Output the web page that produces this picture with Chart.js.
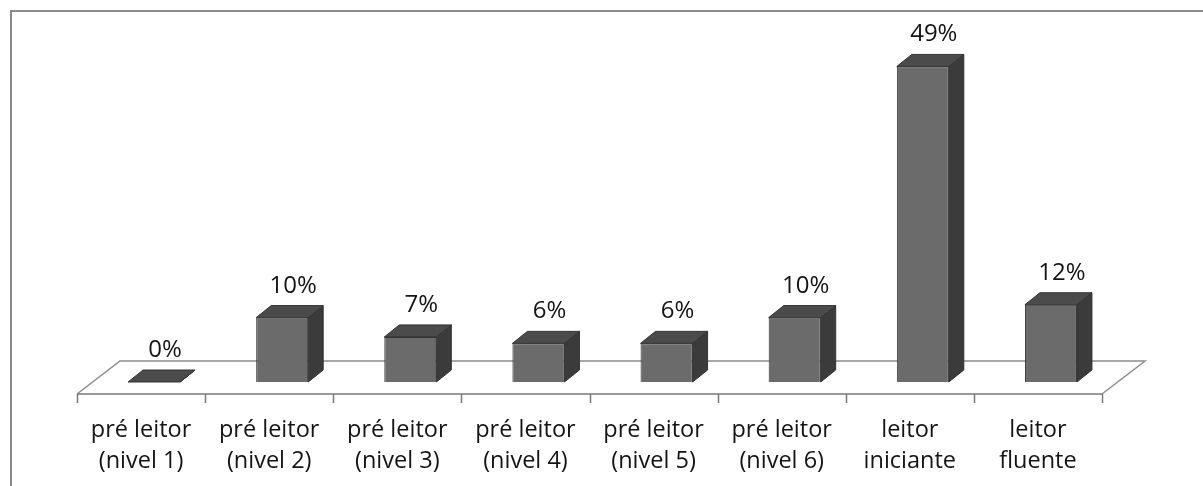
<!DOCTYPE html>
<html>
<head>
<meta charset="utf-8">
<script src="https://cdn.jsdelivr.net/npm/chart.js@4.4.1/dist/chart.umd.min.js"></script>
<style>
  html, body { margin: 0; padding: 0; background: #fff; }
  #wrap { width: 1203px; height: 486px; position: relative; }
</style>
</head>
<body>
<div id="wrap"><canvas id="chart" width="1203" height="486"></canvas></div>
<script>
'use strict';

// data
const categories = [
  ['pré leitor', '(nivel 1)'],
  ['pré leitor', '(nivel 2)'],
  ['pré leitor', '(nivel 3)'],
  ['pré leitor', '(nivel 4)'],
  ['pré leitor', '(nivel 5)'],
  ['pré leitor', '(nivel 6)'],
  ['leitor', 'iniciante'],
  ['leitor', 'fluente']
];
const percentValues = [0, 10, 7, 6, 6, 10, 49, 12];
const valueAxisMin = 0, valueAxisMax = 50;

// fake 3D look
const DX = 15, DY = 12;        // depth of each bar
const SHIFT = 13;              // bars sit a bit back on the floor
const FLOOR_DX = 43, FLOOR_DY = 33, FLOOR_DROP = 12;
const FRONT = '#6b6b6b', SIDE = '#3b3b3b', TOP = '#4b4b4b', EDGE = '#333';
const TEXT = '#141414';

const bar3d = {
  id: 'bar3d',
  beforeDraw(chart) {
    // outer frame (only left/top edges fall inside the shot)
    const ctx = chart.ctx;
    ctx.save();
    ctx.strokeStyle = '#8a8a8a';
    ctx.lineWidth = 2;
    ctx.beginPath();
    ctx.moveTo(11, chart.height);
    ctx.lineTo(11, 11);
    ctx.lineTo(chart.width, 11);
    ctx.stroke();
    ctx.restore();
  },
  beforeDatasetsDraw(chart) {
    const ctx = chart.ctx;
    const xs = chart.scales.x, ys = chart.scales.y;
    const fy = ys.getPixelForValue(0) + FLOOR_DROP;
    const l = xs.left, r = xs.right;
    ctx.save();
    ctx.strokeStyle = '#8c8c8c';
    ctx.lineWidth = 1.5;
    ctx.beginPath();
    ctx.moveTo(l, fy);
    ctx.lineTo(l + FLOOR_DX, fy - FLOOR_DY);
    ctx.lineTo(r + FLOOR_DX, fy - FLOOR_DY);
    ctx.lineTo(r, fy);
    ctx.stroke();
    ctx.strokeStyle = '#7a7a7a';
    ctx.beginPath();
    ctx.moveTo(l, fy);
    ctx.lineTo(r, fy);
    const step = (r - l) / categories.length;
    for (let i = 0; i <= categories.length; i++) {
      const tx = Math.round(l + i * step) + 0.5;
      ctx.moveTo(tx, fy);
      ctx.lineTo(tx, fy + 9);
    }
    ctx.stroke();
    ctx.restore();

    ctx.save();
    ctx.translate(SHIFT, 0);
  },
  afterDatasetsDraw(chart) {
    const ctx = chart.ctx;
    const meta = chart.getDatasetMeta(0);
    ctx.lineWidth = 1;
    ctx.strokeStyle = EDGE;
    meta.data.forEach(el => {
      const { x, y, base, width } = el.getProps(['x', 'y', 'base', 'width'], true);
      const l = x - width / 2, r = x + width / 2;
      ctx.fillStyle = SIDE;
      ctx.beginPath();
      ctx.moveTo(r, y);
      ctx.lineTo(r + DX, y - DY);
      ctx.lineTo(r + DX, base - DY);
      ctx.lineTo(r, base);
      ctx.closePath();
      ctx.fill();
      ctx.stroke();
      ctx.fillStyle = TOP;
      ctx.beginPath();
      ctx.moveTo(l, y);
      ctx.lineTo(l + DX, y - DY);
      ctx.lineTo(r + DX, y - DY);
      ctx.lineTo(r, y);
      ctx.closePath();
      ctx.fill();
      ctx.stroke();
    });
    ctx.restore();

    // value labels
    ctx.save();
    ctx.fillStyle = TEXT;
    ctx.font = '24px "Open Sans"';
    ctx.textAlign = 'center';
    ctx.textBaseline = 'alphabetic';
    meta.data.forEach((el, i) => {
      const { x, y } = el.getProps(['x', 'y'], true);
      ctx.fillText(percentValues[i] + '%', x + SHIFT + 11, y - DY - 13);
    });
    ctx.restore();
  }
};

new Chart(document.getElementById('chart'), {
  type: 'bar',
  data: {
    labels: categories,
    datasets: [{
      data: percentValues,
      backgroundColor: FRONT,
      borderColor: EDGE,
      borderWidth: 1,
      categoryPercentage: 1,
      barPercentage: 0.406,
      clip: false
    }]
  },
  options: {
    responsive: false,
    animation: false,
    devicePixelRatio: 1,
    layout: { padding: { top: 60, left: 77, right: 101, bottom: 11 } },
    plugins: { legend: { display: false }, tooltip: { enabled: false } },
    scales: {
      x: {
        grid: { display: false, drawTicks: false },
        border: { display: false },
        afterFit(scale) { scale.height = 93; },
        ticks: {
          color: TEXT,
          font: { family: 'Open Sans', size: 23.5, lineHeight: 31 / 23.5 },
          padding: 33,
          maxRotation: 0,
          autoSkip: false
        }
      },
      y: { display: false, min: valueAxisMin, max: valueAxisMax }
    }
  },
  plugins: [bar3d]
});
</script>
</body>
</html>
